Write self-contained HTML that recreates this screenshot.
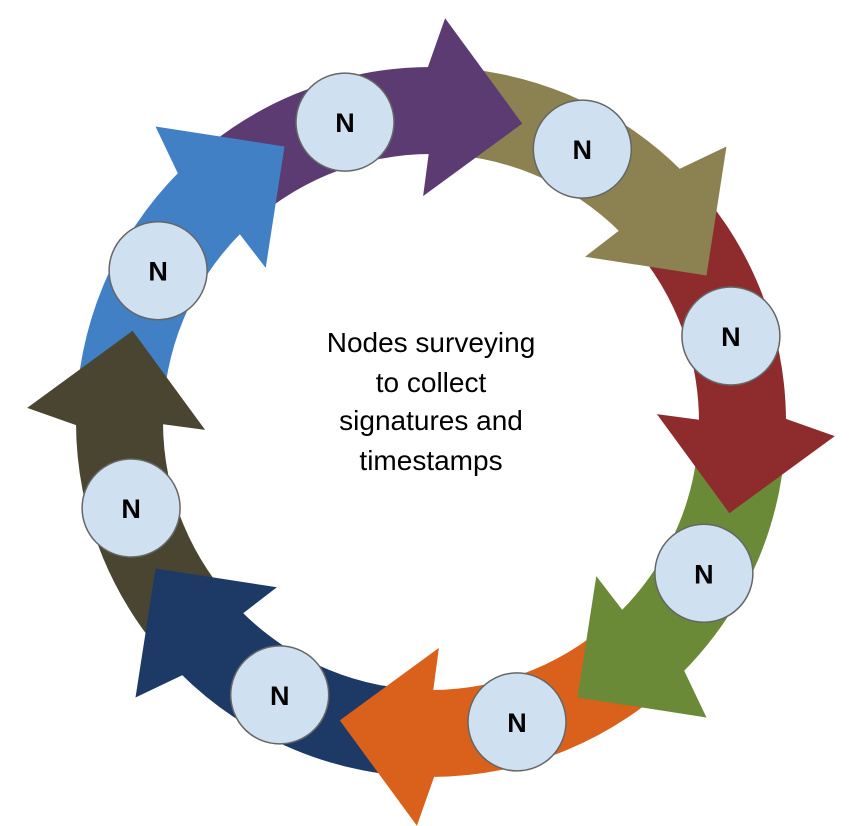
<!DOCTYPE html>
<html><head><meta charset="utf-8">
<style>
html,body{margin:0;padding:0;background:#fff;width:862px;height:826px;overflow:hidden}
svg{display:block}
text{font-family:"Liberation Sans",sans-serif}
</style></head>
<body>
<svg id="s" width="862" height="826" viewBox="0 0 862 826" xmlns="http://www.w3.org/2000/svg">
<g id="bodies"></g>
<g id="heads"></g>
<g id="nodes"></g>
<g font-size="28" text-anchor="middle" fill="#000">
<text x="431" y="352">Nodes surveying</text>
<text x="431" y="392">to collect</text>
<text x="431" y="430">signatures and</text>
<text x="431" y="470">timestamps</text>
</g>
</svg>
<script>
(function(){
var cx=431,cy=422;
var cols=["#5b3b72","#8c8150","#8e2b2d","#6b8a37","#d9611c","#1d3a66","#4a4530","#4280c6"];
var ns="http://www.w3.org/2000/svg";
function P(r,a){var t=a*Math.PI/180;return [(cx+r*Math.sin(t)).toFixed(1),(cy-r*Math.cos(t)).toFixed(1)];}
var gb=document.getElementById("bodies"),gh=document.getElementById("heads"),n=document.getElementById("nodes");
for(var k=0;k<8;k++){
 var b=45*k,s=b-45,t=17+45*k;
 var Ro=355,Ri=268;
 var p1=P(Ro,s),p2=P(Ro,b),p6=P(Ri,b),p7=P(Ri,s);
 var d="M"+p1+" A"+Ro+" "+Ro+" 0 0 1 "+p2+" L"+p6+" A"+Ri+" "+Ri+" 0 0 0 "+p7+" Z";
 var e=document.createElementNS(ns,"path");e.setAttribute("d",d);e.setAttribute("fill",cols[k]);gb.appendChild(e);
 var h3=P(404,b+2),h4=P(312,t),h5=P(226,b-2);
 var dh="M"+P(Ro,b-0.5)+" L"+h3+" L"+h4+" L"+h5+" L"+P(Ri,b-0.5)+" Z";
 var f=document.createElementNS(ns,"path");f.setAttribute("d",dh);f.setAttribute("fill",cols[k]);gh.appendChild(f);
}
for(var k=0;k<8;k++){
 var c=P(312,-16+45*k);
 var ci=document.createElementNS(ns,"circle");
 ci.setAttribute("cx",c[0]);ci.setAttribute("cy",c[1]);ci.setAttribute("r","49");
 ci.setAttribute("fill","#cfe0f1");ci.setAttribute("stroke","#666");ci.setAttribute("stroke-width","1.5");
 n.appendChild(ci);
 var tx=document.createElementNS(ns,"text");
 tx.setAttribute("x",c[0]);tx.setAttribute("y",(+c[1]+10).toFixed(1));
 tx.setAttribute("text-anchor","middle");tx.setAttribute("font-size","27");tx.setAttribute("font-weight","bold");
 tx.textContent="N";n.appendChild(tx);
}
})();
</script>
</body></html>
